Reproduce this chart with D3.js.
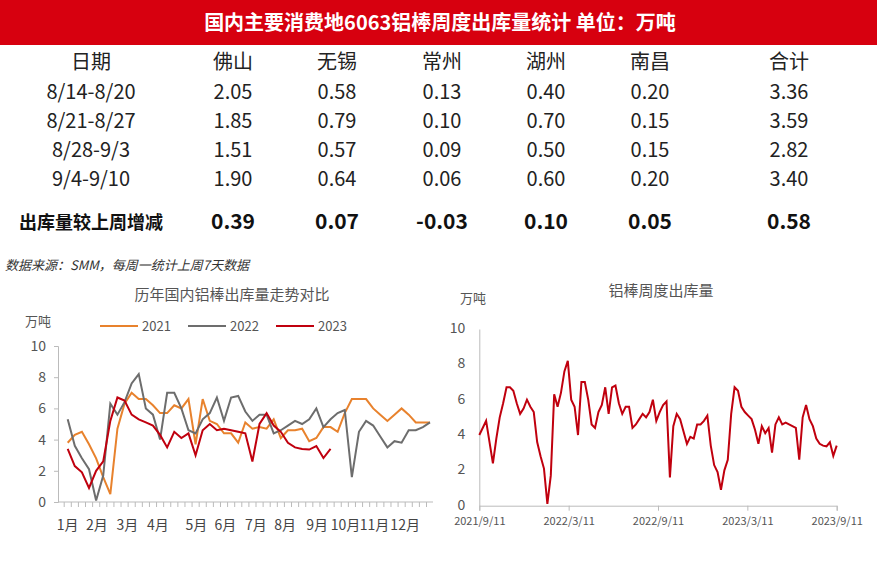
<!DOCTYPE html>
<html>
<head>
<meta charset="utf-8">
<script src="https://cdn.jsdelivr.net/npm/d3@7"></script>
<style>
  body { margin: 0; background: #fff; }
  text { font-family: "Noto Sans CJK SC", "Noto Sans", sans-serif; }
</style>
</head>
<body>
<svg id="chart" width="877" height="570"></svg>
<script>
// table data
const columns = ["日期", "佛山", "无锡", "常州", "湖州", "南昌", "合计"]
const weeks = ["8/14-8/20", "8/21-8/27", "8/28-9/3", "9/4-9/10"]
const tableValues = [
  ["2.05", "0.58", "0.13", "0.40", "0.20", "3.36"],
  ["1.85", "0.79", "0.10", "0.70", "0.15", "3.59"],
  ["1.51", "0.57", "0.09", "0.50", "0.15", "2.82"],
  ["1.90", "0.64", "0.06", "0.60", "0.20", "3.40"]
]
const changeLabel = "出库量较上周增减"
const changeValues = ["0.39", "0.07", "-0.03", "0.10", "0.05", "0.58"]

// left chart: weekly values per year
const s2021 = [3.8, 4.3, 4.5, 3.7, 2.8, 1.6, 0.5, 4.7, 6.3, 7.0, 6.6, 6.6, 6.2, 5.7, 5.7, 6.2, 6.0, 6.6, 3.7, 6.6,
  5.2, 5.0, 4.4, 4.4, 3.8, 5.1, 4.7, 4.8, 4.7, 5.3, 4.1, 4.6, 4.6, 4.7, 3.9, 4.1, 4.8, 4.8, 4.5, 5.7,
  6.6, 6.6, 6.6, 6.0, 5.6, 5.2, 5.6, 6.0, 5.6, 5.1, 5.1, 5.1]
const s2022 = [5.3, 3.6, 2.8, 2.1, 0.1, 1.7, 6.3, 5.6, 6.4, 7.6, 8.2, 6.0, 5.6, 4.0, 7.0, 7.0, 6.0, 4.6, 4.4, 5.3,
  5.7, 6.7, 5.2, 6.7, 6.8, 5.8, 5.2, 5.6, 5.6, 4.4, 4.6, 4.9, 5.2, 5.0, 5.3, 6.0, 4.8, 5.3, 5.7, 5.9,
  1.6, 4.5, 5.2, 4.9, 4.2, 3.5, 3.9, 3.8, 4.6, 4.6, 4.8, 5.1]
const s2023 = [3.4, 2.3, 1.9, 0.9, 2.0, 2.6, 5.2, 6.7, 6.5, 5.6, 5.3, 5.1, 4.9, 4.3, 3.5, 4.5, 4.1, 4.4, 3.0, 4.6,
  5.0, 4.6, 4.7, 4.6, 4.5, 4.4, 2.6, 5.0, 5.7, 4.9, 4.5, 3.8, 3.5, 3.4, 3.36, 3.59, 2.82, 3.40]
const months = ["1月", "2月", "3月", "4月", "5月", "6月", "7月", "8月", "9月", "10月", "11月", "12月"]
const monthWeek = [0, 4.1, 8.4, 12.7, 18.1, 22.2, 26.5, 30.6, 35.1, 39.1, 43.2, 47.5]

// right chart: weekly from 2021/9/11
const tail2021 = [4.0, 4.4, 4.8, 3.6, 2.4, 3.8, 5.0, 5.8, 6.7, 6.7, 6.5, 5.8, 5.2, 5.5, 6.0, 5.6]
const dateTicks = ["2021/9/11", "2022/3/11", "2022/9/11", "2023/3/11", "2023/9/11"]

const svg = d3.select("#chart")
const red = "#d7000f"

// title bar
svg.append("rect").attr("x", 0).attr("y", 0).attr("width", 877).attr("height", 45).attr("fill", red)
svg.append("text").attr("x", 440).attr("y", 30).attr("text-anchor", "middle")
  .attr("fill", "#fff").attr("font-size", 20).attr("font-weight", "bold")
  .text("国内主要消费地6063铝棒周度出库量统计 单位：万吨")

// table
const colX = [91, 233, 337, 442, 546, 650, 789]
const rowY = [69, 99, 128, 157, 186]
columns.forEach((c, i) => {
  svg.append("text").attr("x", colX[i]).attr("y", rowY[0]).attr("text-anchor", "middle")
    .attr("font-size", 20).attr("fill", "#222").text(c)
})
weeks.forEach((w, r) => {
  const row = [w].concat(tableValues[r])
  row.forEach((v, i) => {
    svg.append("text").attr("x", colX[i]).attr("y", rowY[r + 1]).attr("text-anchor", "middle")
      .attr("font-size", 20).attr("fill", "#222").text(v)
  })
})
;[changeLabel].concat(changeValues).forEach((v, i) => {
  svg.append("text").attr("x", colX[i]).attr("y", 229).attr("text-anchor", "middle")
    .attr("font-size", i === 0 ? 18 : 21).attr("font-weight", "bold").attr("fill", "#111").text(v)
})
svg.append("text").attr("x", 5).attr("y", 270).attr("font-size", 13).attr("font-style", "italic")
  .attr("fill", "#333").text("数据来源：SMM，每周一统计上周7天数据")

// left chart
const lx = d3.scaleLinear().domain([0, 51]).range([67.7, 430])
const ly = d3.scaleLinear().domain([0, 10]).range([502, 346])
const left = svg.append("g")
left.append("text").attr("x", 232).attr("y", 300).attr("text-anchor", "middle")
  .attr("font-size", 15).attr("fill", "#555").text("历年国内铝棒出库量走势对比")
left.append("text").attr("x", 25).attr("y", 326).attr("font-size", 13).attr("fill", "#555").text("万吨")
const legend = [["2021", "#e8822d"], ["2022", "#6d6d6d"], ["2023", "#c0000e"]]
legend.forEach((d, i) => {
  const x0 = 100 + i * 88
  left.append("line").attr("x1", x0).attr("x2", x0 + 38).attr("y1", 326).attr("y2", 326)
    .attr("stroke", d[1]).attr("stroke-width", 2)
  left.append("text").attr("x", x0 + 42).attr("y", 331).attr("font-size", 13).attr("fill", "#555").text(d[0])
})
left.append("g").attr("transform", "translate(58,0)")
  .call(d3.axisLeft(ly).ticks(5).tickSize(4).tickPadding(8))
  .call(g => g.selectAll("text").attr("font-size", 14).attr("fill", "#555"))
  .call(g => g.selectAll("line,path").attr("stroke", "#bbb"))
left.append("line").attr("x1", 58).attr("x2", 433).attr("y1", ly(0)).attr("y2", ly(0)).attr("stroke", "#bbb")
left.append("g").selectAll("line").data(d3.range(52)).join("line")
  .attr("x1", d => lx(d) - 3.5).attr("x2", d => lx(d) - 3.5)
  .attr("y1", ly(0)).attr("y2", ly(0) + 5).attr("stroke", "#bbb")
left.append("g").selectAll("text").data(months).join("text")
  .attr("x", (d, i) => lx(monthWeek[i])).attr("y", 530).attr("text-anchor", "middle")
  .attr("font-size", 14).attr("fill", "#444").text(d => d)
const lline = d3.line().x((d, i) => lx(i)).y(d => ly(d))
;[s2021, s2022, s2023].forEach((s, i) => {
  left.append("path").datum(s).attr("d", lline).attr("fill", "none")
    .attr("stroke", legend[i][1]).attr("stroke-width", 2)
})

// right chart
const weekly = tail2021.concat(s2022, s2023)
const rx = d3.scaleLinear().domain([0, weekly.length - 1]).range([479.3, 836.7])
const ry = d3.scaleLinear().domain([0, 10]).range([505.7, 329])
const right = svg.append("g")
right.append("text").attr("x", 661).attr("y", 296).attr("text-anchor", "middle")
  .attr("font-size", 15).attr("fill", "#555").text("铝棒周度出库量")
right.append("text").attr("x", 460).attr("y", 303).attr("font-size", 13).attr("fill", "#555").text("万吨")
right.append("g").attr("transform", "translate(479.3,0)")
  .call(d3.axisLeft(ry).ticks(5).tickSize(0).tickPadding(14))
  .call(g => g.selectAll("text").attr("font-size", 14).attr("fill", "#555").attr("dy", "0.25em"))
  .call(g => g.select("path").attr("stroke", "#bbb"))
const tickIdx = dateTicks.map((d, i) => i * (weekly.length - 1) / (dateTicks.length - 1))
right.append("g").attr("transform", `translate(0,${ry(0)})`)
  .call(d3.axisBottom(rx).tickValues(tickIdx).tickFormat((d, i) => dateTicks[i]).tickSize(5).tickPadding(7))
  .call(g => g.selectAll("text").attr("font-size", 11).attr("fill", "#555"))
  .call(g => g.selectAll("line,path").attr("stroke", "#bbb"))
right.append("path").datum(weekly)
  .attr("d", d3.line().x((d, i) => rx(i)).y(d => ry(d)))
  .attr("fill", "none").attr("stroke", "#c0000e").attr("stroke-width", 2)
</script>
</body>
</html>
